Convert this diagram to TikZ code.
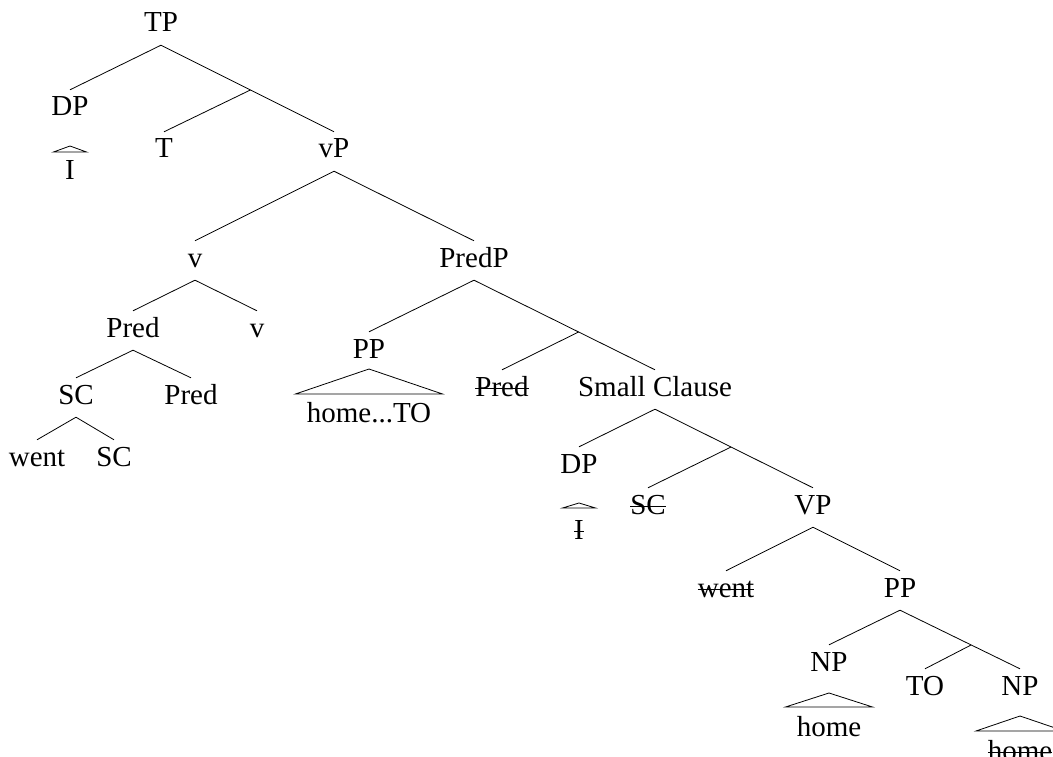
\documentclass[tikz,border=0pt]{standalone}
\usepackage{fontspec}
\setmainfont{Liberation Serif}
\usetikzlibrary{calc}
\newsavebox{\xoutbox}
\newcommand{\xout}[1]{\sbox{\xoutbox}{#1}\rlap{\rule[7.5pt]{\wd\xoutbox}{0.9pt}}\usebox{\xoutbox}}

\begin{document}
\begin{tikzpicture}[x=1pt,y=-1pt,
  cat/.style={anchor=base,inner xsep=0pt,inner ysep=7pt,text height=19pt,text depth=6pt,font=\fontsize{29}{34}\selectfont},
  branch/.style={draw=black,line width=0.8pt},
  roof/.style={draw=black,line width=0.8pt}]
\useasboundingbox (0,0) rectangle (1053,757);
\node[cat] (tp) at (161,32) {TP};
\node[cat] (dp) at (70,116) {DP};
\node[cat] (i) at (70,180) {I};
\node[cat] (t) at (164,158) {T};
\node[cat] (vp) at (334,158) {vP};
\node[cat] (v) at (195,267) {v};
\node[cat] (predp) at (474,267) {PredP};
\node[cat] (pred) at (133,337) {Pred};
\node[cat] (vhead) at (257,337) {v};
\node[cat] (sc) at (76,404) {SC};
\node[cat] (predhead) at (191,404) {Pred};
\node[cat] (went) at (37,466) {went};
\node[cat] (schead) at (114,466) {SC};
\node[cat] (pp) at (369,358) {PP};
\node[cat] (hometo) at (369,422) {home...TO};
\node[cat] (predx) at (502,396) {\xout{Pred}};
\node[cat] (smallc) at (655,396) {Small Clause};
\node[cat] (dpb) at (579,473) {DP};
\node[cat] (ix) at (579,539) {\xout{I}};
\node[cat] (scx) at (648,514) {\xout{SC}};
\node[cat] (vpb) at (813,514) {VP};
\node[cat] (wentx) at (726,597) {\xout{went}};
\node[cat] (ppb) at (900,597) {PP};
\node[cat] (np) at (829,671) {NP};
\node[cat] (to) at (925,695) {TO};
\node[cat] (npb) at (1020,695) {NP};
\node[cat] (home) at (829,736) {home};
\node[cat] (homex) at (1020,760) {\xout{home}};

% junctions on the right branches
\coordinate (j1) at ($(tp.south)!0.517!(vp.north)$);
\coordinate (j2) at ($(predp.south)!0.578!(smallc.north)$);
\coordinate (j3) at ($(smallc.south)!0.481!(vpb.north)$);
\coordinate (j4) at ($(ppb.south)!0.593!(npb.north)$);

\path [branch] (tp.south) edge (dp.north);
\path [branch] (tp.south) edge (vp.north);
\path [branch] (j1) edge (t.north);
\path [branch] (vp.south) edge (v.north);
\path [branch] (vp.south) edge (predp.north);
\path [branch] (v.south) edge (pred.north);
\path [branch] (v.south) edge (vhead.north);
\path [branch] (pred.south) edge (sc.north);
\path [branch] (pred.south) edge (predhead.north);
\path [branch] (sc.south) edge (went.north);
\path [branch] (sc.south) edge (schead.north);
\path [branch] (predp.south) edge (pp.north);
\path [branch] (predp.south) edge (smallc.north);
\path [branch] (j2) edge (predx.north);
\path [branch] (smallc.south) edge (dpb.north);
\path [branch] (smallc.south) edge (vpb.north);
\path [branch] (j3) edge (scx.north);
\path [branch] (vpb.south) edge (wentx.north);
\path [branch] (vpb.south) edge (ppb.north);
\path [branch] (ppb.south) edge (np.north);
\path [branch] (ppb.south) edge (npb.north);
\path [branch] (j4) edge (to.north);

% roofs
\draw [roof] (70,146) -- ++(-16.5,6) -- ++(33,0) -- cycle;
\draw [roof] (369,369) -- ++(-73.5,25) -- ++(147,0) -- cycle;
\draw [roof] (579,503) -- ++(-16.5,5) -- ++(33,0) -- cycle;
\draw [roof] (829,693) -- ++(-43.5,14) -- ++(87,0) -- cycle;
\draw [roof] (1020,716) -- ++(-44,15) -- ++(88,0) -- cycle;
\end{tikzpicture}
\end{document}
